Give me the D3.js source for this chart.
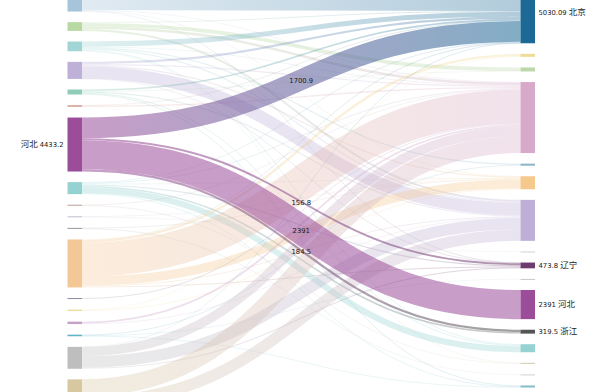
<!DOCTYPE html>
<html><head><meta charset="utf-8">
<script src="https://cdn.jsdelivr.net/npm/d3@7"></script>
<style>body{margin:0;background:#fff;overflow:hidden}</style>
</head><body><svg id="c" width="600" height="392"></svg>
<script>
// ---- data ----
const leftNames  = ["天津","山西","内蒙古","黑龙江","吉林","上海","河北","山东","江苏","安徽","福建","河南","湖南","江西","湖北","四川","广东","陕西"];
const leftColors = ["#a6c4da","#b8d9a4","#a2d6d6","#beb0d6","#90ccb8","#dcaaa0","#9b4d9a","#96d2d2","#b4a096","#bebed2","#969696","#f4c896","#8a8aa0","#f0dc96","#c8a0c8","#64b4c8","#bebebe","#d7c8a0"];
const rightNames  = ["北京","广西","山西","广东","重庆","河南","上海","海南","辽宁","云南","河北","浙江","山东","陕西","甘肃","四川"];
const rightColors = ["#1d6996","#f0dc96","#bcd7aa","#d6aac8","#8cb4c8","#f5c88c","#bfafd7","#d2d2d2","#6e3c6e","#c8c8c8","#9b4d9a","#555555","#96d2d2","#d2c8aa","#d2d2d2","#82bec8"];

const linkSource = [
 "天津","天津","天津","天津",
 "山西","山西","山西","山西",
 "内蒙古","内蒙古","内蒙古","内蒙古","内蒙古","内蒙古",
 "黑龙江","黑龙江","黑龙江","黑龙江","黑龙江",
 "吉林","吉林","吉林","吉林","吉林",
 "上海","上海",
 "河北","河北","河北","河北",
 "山东","山东","山东","山东","山东","山东","山东",
 "江苏","江苏",
 "安徽","安徽",
 "福建","福建",
 "河南","河南","河南","河南","河南","河南",
 "湖南",
 "江西","江西",
 "湖北","湖北",
 "四川","四川","四川",
 "广东","广东","广东","广东",
 "陕西","陕西"];
const linkTarget = [
 "北京","广东","河南","辽宁",
 "北京","山西","广东","上海",
 "北京","广东","重庆","上海","山东","陕西",
 "北京","广东","河南","上海","辽宁",
 "北京","山西","上海","山东","四川",
 "北京","广东",
 "北京","辽宁","河北","浙江",
 "北京","广东","河南","辽宁","浙江","山东","四川",
 "广东","陕西",
 "河南","海南",
 "河南","甘肃",
 "北京","广西","广东","河南","上海","辽宁",
 "广东",
 "广西","河南",
 "广东","上海",
 "重庆","四川","云南",
 "北京","广东","上海","辽宁",
 "广东","上海"];
const linkValue = [
 2380,40,40,40,
 60,300,200,160,
 420,60,100,100,80,40,
 180,100,100,1000,20,
 130,28,100,77,75,
 40,110,
 1700.9,156.8,2391,184.5,
 50,80,57,100,135,500,63,
 40,40,
 40,40,
 40,40,
 60,190,2800,730,80,80,
 80,
 56,60,
 150,50,
 64,26,40,
 9.19,770,943.81,77,
 1400,932.19];
const focusNode = "河北";

// ---- layout ----
const svg = d3.select("#c");
const leftX = 67.5, rightX = 520.5, nodeW = 14.5, gap = 10.6;
const hScale = d3.scaleLinear().domain([0, 1000]).range([0, 12.18]);
const fmt = v => String(Math.round(v * 100) / 100);

const links = linkValue.map((v, i) => ({
  s: leftNames.indexOf(linkSource[i]),
  t: rightNames.indexOf(linkTarget[i]),
  value: v
}));

function buildColumn(names, colors, key, top, x) {
  let y = top;
  return names.map((n, i) => {
    const total = d3.sum(links.filter(l => l[key] === i), l => l.value);
    const h = hScale(total);
    const node = {name: n, color: colors[i], value: total, x0: x, x1: x + nodeW, y0: y, y1: y + h, h};
    y += h + gap;
    return node;
  });
}
const leftNodes = buildColumn(leftNames, leftColors, "s", -18.9, leftX);
const rightNodes = buildColumn(rightNames, rightColors, "t", -18, rightX);

links.forEach(l => { l.w = hScale(l.value); l.src = leftNodes[l.s]; l.tgt = rightNodes[l.t]; });
leftNodes.forEach((n, i) => {
  let y = n.y0;
  links.filter(l => l.s === i).sort((a, b) => a.t - b.t).forEach(l => { l.sy = y + l.w / 2; y += l.w; });
});
rightNodes.forEach((n, i) => {
  let y = n.y0;
  links.filter(l => l.t === i).sort((a, b) => a.s - b.s).forEach(l => { l.ty = y + l.w / 2; y += l.w; });
});

const defs = svg.append("defs");
links.forEach((l, i) => {
  const g = defs.append("linearGradient").attr("id", "g" + i)
    .attr("gradientUnits", "userSpaceOnUse")
    .attr("x1", leftX + nodeW).attr("x2", rightX).attr("y1", 0).attr("y2", 0);
  g.append("stop").attr("offset", "0%").attr("stop-color", l.src.color);
  g.append("stop").attr("offset", "100%").attr("stop-color", l.tgt.color);
  l.id = i;
  l.focus = l.src.name === focusNode;
});

const linkGen = d3.linkHorizontal()
  .source(d => [leftX + nodeW, d.sy])
  .target(d => [rightX, d.ty]);

const ordered = links.filter(l => !l.focus).concat(links.filter(l => l.focus));
svg.append("g").attr("fill", "none")
  .selectAll("path").data(ordered).join("path")
  .attr("d", linkGen)
  .attr("stroke", d => `url(#g${d.id})`)
  .attr("stroke-width", d => Math.max(0.6, d.w))
  .attr("stroke-opacity", d => d.focus ? 0.55 : (d.w < 1.5 ? 0.25 : 0.34));

const allNodes = leftNodes.concat(rightNodes);
svg.append("g").selectAll("rect").data(allNodes).join("rect")
  .attr("x", d => d.x0).attr("y", d => d.y0)
  .attr("width", nodeW).attr("height", d => Math.max(1, d.h))
  .attr("fill", d => d.color);

// labels
const numFont = "DejaVu Sans, sans-serif";
const cjkFont = "Noto Sans CJK SC, sans-serif";
const ink = "#1a1a1a";
const lab = svg.append("g");
const focusLeft = leftNodes.filter(n => n.name === focusNode);
const focusRight = rightNodes.filter(n => links.some(l => l.focus && l.tgt === n));

focusLeft.forEach(n => {
  const t = lab.append("text").attr("x", n.x0 - 4).attr("y", (n.y0 + n.y1) / 2 + 2.5)
    .attr("text-anchor", "end").attr("fill", ink);
  t.append("tspan").attr("font-family", cjkFont).attr("font-size", 8.5).attr("fill", ink).text(n.name + " ");
  t.append("tspan").attr("font-family", numFont).attr("font-size", 6.8).attr("fill", ink).text(fmt(n.value));
});
focusRight.forEach(n => {
  const t = lab.append("text").attr("x", n.x1 + 3.5).attr("y", (n.y0 + n.y1) / 2 + 2.5).attr("fill", ink);
  t.append("tspan").attr("font-family", numFont).attr("font-size", 6.8).attr("fill", ink).text(fmt(n.value) + " ");
  t.append("tspan").attr("font-family", cjkFont).attr("font-size", 8.5).attr("fill", ink).text(n.name);
});
links.filter(l => l.focus).forEach(l => {
  lab.append("text")
    .attr("x", (leftX + nodeW + rightX) / 2).attr("y", (l.sy + l.ty) / 2 + 3.5)
    .attr("text-anchor", "middle").attr("fill", ink)
    .attr("font-family", numFont).attr("font-size", 6.8)
    .text(fmt(l.value));
});
</script>
</body></html>
